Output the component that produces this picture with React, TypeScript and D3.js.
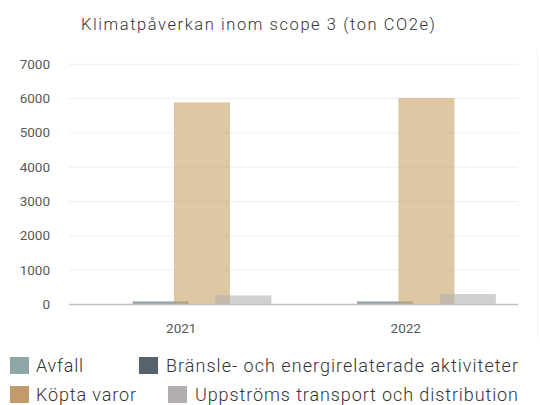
import React from "react";
import * as d3 from "d3";

const categories = ["2021", "2022"];
const seriesNames = [
  "Avfall",
  "Bränsle- och energirelaterade aktiviteter",
  "Köpta varor",
  "Uppströms transport och distribution",
];
const avfall = [5, 5];
const bransle = [85, 85];
const kopta = [5890, 6020];
const uppstroms = [260, 300];
const yTicks = [0, 1000, 2000, 3000, 4000, 5000, 6000, 7000];
const colors = ["#8FA6A6", "#56626C", "#C19B6C", "#B4AFAE"];
const barColors = ["#8FA6A6", "#56626C", "#C6A060", "#B4AFAE"];
const title = "Klimatpåverkan inom scope 3 (ton CO2e)";

const W = 540;
const H = 405;

export default function App() {
  const series = [avfall, bransle, kopta, uppstroms];
  const y = d3.scaleLinear().domain([0, 7000]).range([304.3, 64.3]);
  const x = d3.scaleBand<string>().domain(categories).range([69, 518]).padding(0);
  const barW = 56;
  const step = 41.4;
  const groupW = step * (series.length - 1) + barW;
  const font = "Roboto, 'Open Sans', sans-serif";

  const legendItems = [
    { i: 0, sx: 10, tx: 36, ty: 372, tw: 47 },
    { i: 1, sx: 139, tx: 166, ty: 372, tw: 352 },
    { i: 2, sx: 10, tx: 36, ty: 401, tw: 100 },
    { i: 3, sx: 168, tx: 195, ty: 401, tw: 323 },
  ];

  return (
    <svg
      width={W}
      height={H}
      style={{ position: "absolute", left: 0, top: 0, background: "#fff" }}
      fontFamily={font}
    >
      <text
        x={258}
        y={30}
        textAnchor="middle"
        fontSize={16.5}
        fontWeight={300}
        fill="#333333"
        textLength={354}
        lengthAdjust="spacing"
      >
        {title}
      </text>
      {yTicks.map((t) => (
        <g key={t}>
          {t !== 0 && (
            <line x1={69} x2={518} y1={y(t)} y2={y(t)} stroke="#EFEFEF" strokeWidth={1} />
          )}
          <text
            x={50}
            y={y(t) + 4.5}
            textAnchor="end"
            fontSize={13.5}
            fill="#595959"
          >
            {t}
          </text>
        </g>
      ))}
      <line x1={537.5} x2={537.5} y1={50} y2={337} stroke="#F0F0F0" strokeWidth={1} />
      {categories.map((c, ci) => {
        const center = (x(c) ?? 0) + x.bandwidth() / 2;
        const start = center - groupW / 2;
        return (
          <g key={c}>
            {series.map((s, si) => (
              <rect
                key={si}
                x={start + si * step}
                y={y(s[ci])}
                width={barW}
                height={y(0) - y(s[ci])}
                fill={barColors[si]}
                fillOpacity={0.58}
              />
            ))}
            <text
              x={center}
              y={333}
              textAnchor="middle"
              fontSize={13.5}
              fill="#595959"
            >
              {c}
            </text>
          </g>
        );
      })}
      <line x1={69} x2={518} y1={304.5} y2={304.5} stroke="#BFBFBF" strokeWidth={1.5} />
      {legendItems.map((l) => (
        <g key={l.i}>
          <rect x={l.sx} y={l.ty - 15} width={19} height={17} fill={colors[l.i]} />
          <text
            x={l.tx}
            y={l.ty}
            fontSize={18}
            fontWeight={300}
            fill="#333333"
            textLength={l.tw}
            lengthAdjust="spacing"
          >
            {seriesNames[l.i]}
          </text>
        </g>
      ))}
    </svg>
  );
}
